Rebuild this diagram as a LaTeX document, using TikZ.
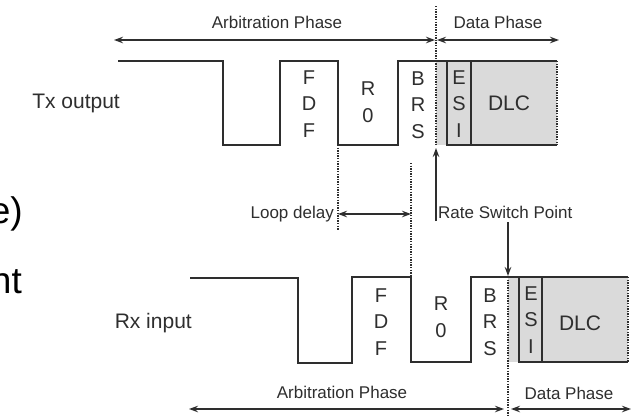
\documentclass[tikz,border=0pt]{standalone}
\usepackage{fontspec}
\setmainfont{Liberation Sans}
\usetikzlibrary{arrows.meta}
\definecolor{ink}{HTML}{2E2E2E}
\definecolor{fillgray}{HTML}{DADADA}
\tikzset{
  wave/.style={draw=ink, line width=1.6pt, line join=miter},
  dbl/.style={draw=ink, line width=1.3pt, {Stealth[length=9pt,width=6.5pt]}-{Stealth[length=9pt,width=6.5pt]}},
  sgl/.style={draw=ink, line width=1.3pt, -{Stealth[length=9pt,width=6.5pt]}},
  dotline/.style={draw=ink, line width=1.2pt, dash pattern=on 1.3pt off 1.3pt},
  lbl/.style={text=ink, inner sep=0pt, font=\fontsize{17}{20}\selectfont},
  sig/.style={text=ink, inner sep=0pt, font=\fontsize{21}{24}\selectfont},
  bits/.style={text=ink, inner sep=0pt, align=center, font=\fontsize{20}{26.5}\selectfont},
  big/.style={text=black, inner sep=0pt, font=\fontsize{37}{40}\selectfont}
}
\begin{document}
\begin{tikzpicture}[x=1pt,y=-1pt]
\useasboundingbox (0,0) rectangle (631,416);
\fill[white] (0,0) rectangle (631,416);

% cropped slide text fragments
\node[big, anchor=base east] (frag1) at (23,223) {e)};
\node[big, anchor=base east] (frag2) at (22,293) {nt};

% ---------- Tx ----------
\fill[fillgray] (436,61) rectangle (557,145);
\draw[wave] (118,61) -- (223,61) -- (223,145) -- (280,145) -- (280,61) -- (338,61) -- (338,145) -- (398,145) -- (398,61) -- (557,61);
\draw[wave] (447,61) -- (447,145) -- (557,145);
\draw[wave] (471,61) -- (471,145);
\draw[dotline] (557,61) -- (557,145);

\node[sig, anchor=east] (tx) at (120,103) {Tx output};
\node[bits] (txfdf) at (309,104) {F\\D\\F};
\node[bits] (txr0) at (368,102) {R\\0};
\node[bits] (txbrs) at (418,105) {B\\R\\S};
\node[bits] (txesi) at (459,104) {E\\S\\I};
\node[sig] (txdlc) at (509,103) {DLC};

% phases Tx
\coordinate (tarbL) at (114,40);
\coordinate (tarbR) at (435,40);
\coordinate (tdatL) at (437,40);
\coordinate (tdatR) at (559,40);
\draw[dbl] (tarbL) -- (tarbR);
\draw[dbl] (tdatL) -- (tdatR);
\node[lbl] (tarb) at (277,22) {Arbitration Phase};
\node[lbl] (tdat) at (498,22) {Data Phase};

% switch line Tx
\coordinate (tswT) at (436,6);
\coordinate (tswB) at (436,146);
\draw[dotline] (tswT) -- (tswB);

% ---------- Loop delay ----------
\coordinate (ld1T) at (338,145);
\coordinate (ld1B) at (338,230);
\coordinate (ld2T) at (411,163);
\coordinate (ld2B) at (411,276);
\draw[dotline] (ld1T) -- (ld1B);
\draw[dotline] (ld2T) -- (ld2B);
\coordinate (ldL) at (338,214);
\coordinate (ldR) at (411,214);
\draw[dbl] (ldL) -- (ldR);
\node[lbl, anchor=east] (loop) at (334,214) {Loop delay};

% ---------- Rate Switch Point ----------
\node[lbl, anchor=west] (rsp) at (438,212) {Rate Switch Point};
\coordinate (upS) at (436,221);
\coordinate (upE) at (436,148);
\draw[sgl] (upS) -- (upE);
\coordinate (dnS) at (508,222);
\coordinate (dnE) at (508,276);
\draw[sgl] (dnS) -- (dnE);

% ---------- Rx ----------
\fill[fillgray] (508,277) rectangle (628,362);
\draw[wave] (190,278) -- (298,278) -- (298,363) -- (352,363) -- (352,277) -- (411,277) -- (411,362) -- (471,362) -- (471,277) -- (628,277);
\draw[wave] (519,277) -- (519,362) -- (628,362);
\draw[wave] (542,277) -- (542,362);
\draw[dotline] (628,277) -- (628,362);

\node[sig, anchor=east] (rx) at (192,323) {Rx input};
\node[bits] (rxfdf) at (381,322) {F\\D\\F};
\node[bits] (rxr0) at (441,317) {R\\0};
\node[bits] (rxbrs) at (490,322) {B\\R\\S};
\node[bits] (rxesi) at (531,320) {E\\S\\I};
\node[sig] (rxdlc) at (580,323) {DLC};

\coordinate (rswT) at (508,277);
\coordinate (rswB) at (508,416);
\draw[dotline] (rswT) -- (rswB);

\coordinate (rarbL) at (189,409);
\coordinate (rarbR) at (504,409);
\coordinate (rdatL) at (511,409);
\coordinate (rdatR) at (631,409);
\draw[dbl] (rarbL) -- (rarbR);
\draw[dbl] (rdatL) -- (rdatR);
\node[lbl] (rarb) at (342,392) {Arbitration Phase};
\node[lbl] (rdat) at (569,393) {Data Phase};
\end{tikzpicture}
\end{document}
